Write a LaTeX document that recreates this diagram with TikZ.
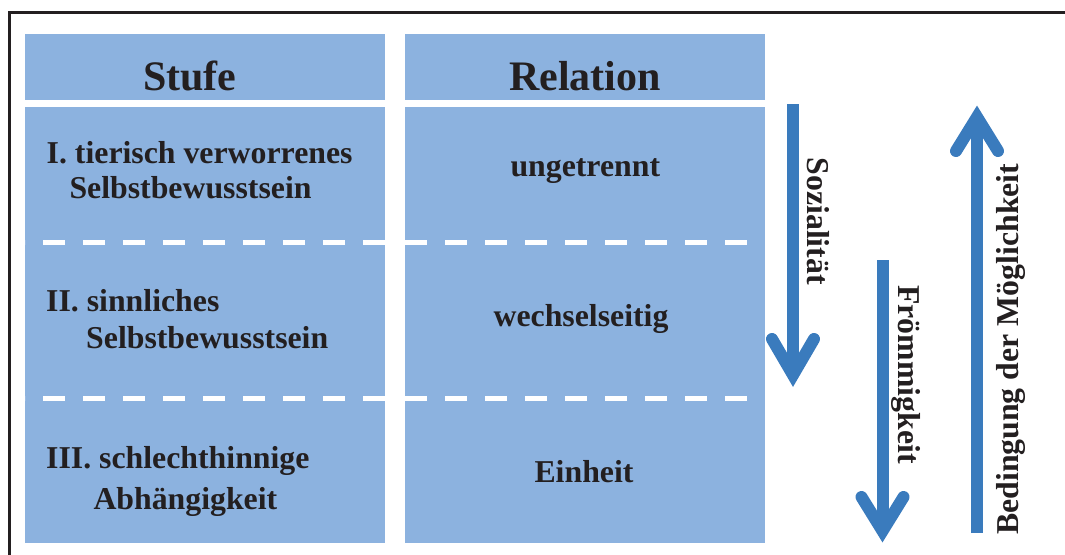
\documentclass[tikz,border=0pt]{standalone}
\usepackage{fontspec}
\setmainfont{Liberation Serif}
\definecolor{cellblue}{HTML}{8CB2DF}
\definecolor{arrowblue}{HTML}{3A7BBD}
\definecolor{ink}{HTML}{231F20}
\begin{document}
\begin{tikzpicture}[x=1pt,y=-1pt,
  cell/.style={fill=cellblue},
  sepline/.style={draw=white, line width=5pt, dash pattern=on 22pt off 18pt},
  txt/.style={inner sep=0pt, anchor=base west, text=ink, font=\bfseries\fontsize{31.8}{38}\selectfont},
  ctxt/.style={txt, anchor=base},
  hdr/.style={txt, font=\bfseries\fontsize{42}{50}\selectfont},
  shaft/.style={draw=arrowblue, line width=12pt},
  barb/.style={draw=arrowblue, line width=12pt, line cap=round},
]
\useasboundingbox (0,0) rectangle (1065,554);
\clip (0,0) rectangle (1065,554);
% frame
\draw[line width=2.6pt, draw=ink] (9.5,12.5) rectangle (1100,590);
% cells
\path[cell] (25,34) rectangle (385,100);
\path[cell] (405,34) rectangle (765,100);
\path[cell] (25,107) rectangle (385,543);
\path[cell] (405,107) rectangle (765,543);
% dashed separators
\draw[sepline] (385,242) -- (25,242);
\draw[sepline] (405,242) -- (765,242);
\draw[sepline] (385,398) -- (25,398);
\draw[sepline] (405,398) -- (765,398);
% headers
\node[hdr] (hStufe) at (143,90) {Stufe};
\node[hdr] (hRel) at (509,90) {Relation};
% left column
\node[txt] (s1a) at (46.5,163.3) {I. tierisch verworrenes};
\node[txt] (s1b) at (69.3,198.3) {Selbstbewusstsein};
\node[txt] (s2a) at (46,311.7) {II. sinnliches};
\node[txt] (s2b) at (86,348) {Selbstbewusstsein};
\node[txt] (s3a) at (46,468.3) {III. schlechthinnige};
\node[txt] (s3b) at (93.3,509) {Abhängigkeit};
% right column
\node[ctxt] (r1) at (585.3,176) {ungetrennt};
\node[ctxt] (r2) at (581,326.7) {wechselseitig};
\node[ctxt] (r3) at (584,482.5) {Einheit};
% arrow 1
\coordinate (a1top) at (793,104);
\coordinate (a1tip) at (793,375);
\coordinate (a1l) at (772,339);
\coordinate (a1r) at (814,339);
\draw[shaft] (a1top) -- (a1tip);
\draw[barb] (a1l) -- (a1tip) -- (a1r);
% arrow 2
\coordinate (a2top) at (882.5,260);
\coordinate (a2tip) at (882.5,531);
\coordinate (a2l) at (861.5,497);
\coordinate (a2r) at (903.5,497);
\draw[shaft] (a2top) -- (a2tip);
\draw[barb] (a2l) -- (a2tip) -- (a2r);
% arrow 3
\coordinate (a3bot) at (977,533);
\coordinate (a3tip) at (977,117);
\coordinate (a3l) at (956,151);
\coordinate (a3r) at (998,151);
\draw[shaft] (a3bot) -- (a3tip);
\draw[barb] (a3l) -- (a3tip) -- (a3r);
% vertical labels
\node[txt, rotate=-90] (lSoz) at (807.5,157.5) {Sozialität};
\node[txt, rotate=-90] (lFro) at (898,285) {Frömmigkeit};
\node[txt, rotate=90] (lBed) at (1018,535) {Bedingung der Möglichkeit};
\end{tikzpicture}
\end{document}
